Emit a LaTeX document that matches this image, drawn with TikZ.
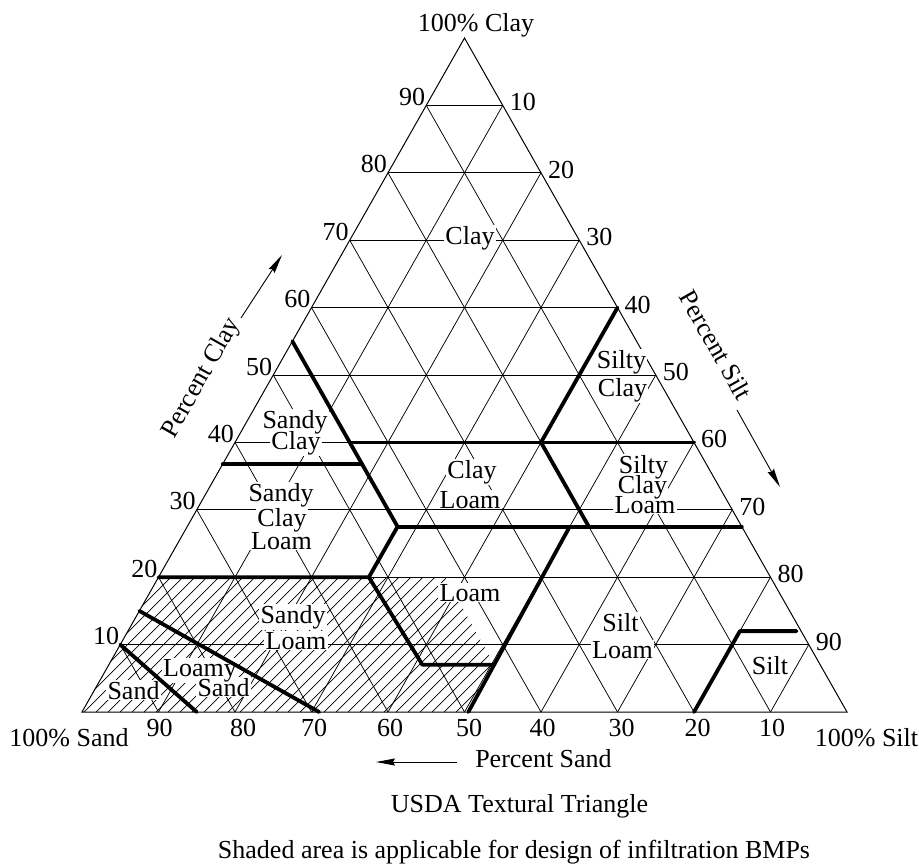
\documentclass[tikz,border=0pt]{standalone}
\usepackage{fontspec}
\setmainfont{Liberation Serif}
\usetikzlibrary{arrows.meta}
\pgfkeys{/ter/s/.store in=\terS,/ter/c/.store in=\terC}
\tikzdeclarecoordinatesystem{ter}{%
  \pgfkeys{/ter/.cd,#1}%
  \pgfpointxy{847-7.65*(\terS)-3.825*(\terC)}{712-6.74*(\terC)}}
\tikzset{
  gridl/.style={line width=0.75pt},
  edgel/.style={line width=1pt, line join=miter},
  bnd/.style={line width=3.8pt, line cap=round, line join=round},
  hatchl/.style={line width=0.7pt},
  cls/.style={inner sep=1.2pt, anchor=base},
  clsbg/.style={cls, fill=white},
  numl/.style={inner sep=0pt},
  arr/.style={line width=0.9pt, -{Stealth[length=19pt,width=7pt,inset=2pt]}},
}
\begin{document}
\begin{tikzpicture}[x=1pt, y=-1pt, font=\fontsize{26}{30}\selectfont]
\useasboundingbox[fill=white] (0,0) rectangle (919,863);

\coordinate (A) at (ter cs:s=100,c=0);
\coordinate (B) at (ter cs:s=0,c=0);
\coordinate (C) at (ter cs:s=0,c=100);

% hatched (shaded) area
\begin{scope}
  \clip (A) -- (ter cs:s=80,c=20) -- (ter cs:s=42.5,c=20) -- (ter cs:s=42.6,c=7) -- (ter cs:s=49.5,c=0) -- cycle;
  \foreach \i in {0,...,42} \draw[hatchl] ({12*\i},712) -- ++(320,-320);
\end{scope}

% grid
\foreach \k in {10,20,...,90} {
  \draw[gridl] (ter cs:s={100-\k},c=\k) -- (ter cs:s=0,c=\k);
  \draw[gridl] (ter cs:s=\k,c=0) -- (ter cs:s=\k,c={100-\k});
  \draw[gridl] (ter cs:s={100-\k},c=0) -- (ter cs:s=0,c={100-\k});
}
\draw[edgel] (A) -- (B) -- (C) -- cycle;

% class labels: white backgrounds first, then the words
\def\classlabels{470/244/Clay, 621.5/368/Silty, 622.5/396/Clay,
  643.5/473/Silty, 642.5/493/Clay, 645/513/Loam,
  472/478/Clay, 470/508/Loam,
  295/428/Sandy, 296/449/Clay,
  281/501/Sandy, 282/526/Clay, 281.5/549/Loam,
  293/623/Sandy, 296/649/Loam,
  200/676/Loamy, 223.5/696/Sand, 133.5/699/Sand,
  470/601/Loam, 620.5/631/Silt, 622.5/658/Loam, 770/674/Silt}
\foreach \x/\y/\t in \classlabels
  \node[clsbg] at (\x,\y) {\phantom{\t}};
\foreach \x/\y/\t [count=\n] in \classlabels
  \node[cls] (lab\n) at (\x,\y) {\t};

% texture class boundaries
\draw[bnd] (ter cs:s=90,c=10) -- (ter cs:s=85,c=0);
\draw[bnd] (ter cs:s=85,c=15) -- (ter cs:s=69,c=0);
\draw[bnd] (ter cs:s=80,c=20) -- (ter cs:s=52.5,c=20) -- (ter cs:s=52,c=7) -- (ter cs:s=42.6,c=7);
\draw[bnd] (ter cs:s=52.5,c=20) -- (ter cs:s=45,c=27.5) -- (ter cs:s=45,c=55);
\draw[bnd] (ter cs:s=63.2,c=36.8) -- (ter cs:s=45,c=36.8);
\draw[bnd] (ter cs:s=45,c=27.5) -- (ter cs:s=0,c=27.5);
\draw[bnd] (ter cs:s=45,c=40) -- (ter cs:s=0,c=40);
\draw[bnd] (ter cs:s=0,c=60) -- (ter cs:s=20,c=40) -- (ter cs:s=20,c=27.5);
\draw[bnd] (ter cs:s=49.5,c=0) -- (ter cs:s=22.5,c=27.5);
\draw[bnd] (ter cs:s=20,c=0) -- (ter cs:s=8,c=12) -- (ter cs:s=0.6,c=12);

% axis numbers
\foreach \c in {10,20,...,90}
  \node[numl, anchor=base east] (l\c) at ([shift={(-1pt,0pt)}]ter cs:s={100-\c},c=\c) {\c};
\foreach \t in {10,20,...,90}
  \node[numl, anchor=west] (r\t) at ([shift={(7pt,3pt)}]ter cs:s=0,c={100-\t}) {\t};
\foreach \s/\x in {90/159.5,80/243,70/314,60/390,50/469,40/542.5,30/621.5,20/697.5,10/772}
  \node[numl, anchor=base] (b\s) at (\x,736) {\s};

% corner labels
\node[numl, anchor=base] (cClay) at (476,31) {100\% Clay};
\node[numl, anchor=base] (cSand) at (69,746) {100\% Sand};
\node[numl, anchor=base] (cSilt) at (866.5,746) {100\% Silt};

% axis titles and arrows
\node[numl, rotate=60.5] (pClay) at (202,378) {Percent Clay};
\coordinate (aC1) at (241,318);
\coordinate (aC2) at (282,255);
\draw[arr] (aC1) -- (aC2);
\node[numl, rotate=-60.5] (pSilt) at (716,345) {Percent Silt};
\coordinate (aS1) at (737,410);
\coordinate (aS2) at (780,487);
\draw[arr] (aS1) -- (aS2);
\node[numl, anchor=base] (pSand) at (543.5,767) {Percent Sand};
\coordinate (aD1) at (457,762);
\coordinate (aD2) at (376,762);
\draw[arr] (aD1) -- (aD2);

\node[numl, anchor=base] (title) at (519.5,812) {USDA Textural Triangle};
\node[numl, anchor=base] (note) at (514,858) {Shaded area is applicable for design of infiltration BMPs};
\end{tikzpicture}
\end{document}
